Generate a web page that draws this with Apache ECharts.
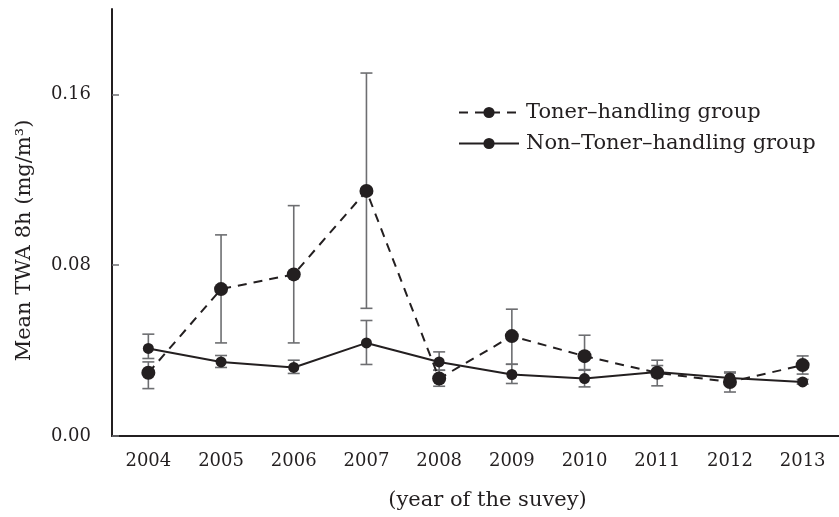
<!DOCTYPE html>
<html>
<head>
<meta charset="utf-8">
<script src="https://cdn.jsdelivr.net/npm/echarts@6/dist/echarts.min.js"></script>
<style>
  html, body { margin: 0; padding: 0; background: #fff; }
  #main { width: 839px; height: 517px; }
</style>
</head>
<body>
<div id="main"></div>
<script>
// 数据
var years = ['2004', '2005', '2006', '2007', '2008', '2009', '2010', '2011', '2012', '2013'];
var yTicks = [0, 0.08, 0.16];

var tonerMean  = [0.0296, 0.0688, 0.0757, 0.1148, 0.0269, 0.0468, 0.0374, 0.0296, 0.0253, 0.0332];
var tonerUpper = [0.0347, 0.0942, 0.1079, 0.1700, 0.0308, 0.0594, 0.0472, 0.0355, 0.0300, 0.0375];
var tonerLower = [0.0222, 0.0436, 0.0436, 0.0598, 0.0233, 0.0336, 0.0311, 0.0235, 0.0206, 0.0290];

var nonMean  = [0.0410, 0.0347, 0.0321, 0.0436, 0.0347, 0.0288, 0.0269, 0.0300, 0.0272, 0.0253];
var nonUpper = [0.0477, 0.0377, 0.0355, 0.0541, 0.0394, 0.0336, 0.0308, 0.0330, 0.0295, 0.0265];
var nonLower = [0.0363, 0.0321, 0.0293, 0.0335, 0.0308, 0.0246, 0.0230, 0.0277, 0.0250, 0.0243];

var font = 'DejaVu Serif';
var black = '#231f20';
var grey = '#6d6e71';

function errData(lower, upper) {
    return years.map(function (y, i) { return [i, lower[i], upper[i]]; });
}

// 误差线
function renderErr(params, api) {
    var x = api.value(0);
    var hi = api.coord([x, api.value(2)]);
    var lo = api.coord([x, api.value(1)]);
    var w = 6;
    var style = { stroke: grey, lineWidth: 1.6 };
    return {
        type: 'group',
        children: [
            { type: 'line', shape: { x1: hi[0], y1: hi[1], x2: lo[0], y2: lo[1] }, style: style },
            { type: 'line', shape: { x1: hi[0] - w, y1: hi[1], x2: hi[0] + w, y2: hi[1] }, style: style },
            { type: 'line', shape: { x1: lo[0] - w, y1: lo[1], x2: lo[0] + w, y2: lo[1] }, style: style }
        ]
    };
}

var myChart = echarts.init(document.getElementById('main'));
myChart.setOption({
    animation: false,
    textStyle: { fontFamily: font, color: black },
    grid: { left: 112, right: -2, top: 9, bottom: 81 },
    legend: {
        orient: 'vertical',
        left: 453,
        top: 97,
        itemWidth: 60,
        itemHeight: 14,
        itemGap: 10,
        data: ['Toner–handling group', 'Non–Toner–handling group'],
        textStyle: { fontFamily: font, fontSize: 21, color: black, padding: [0, 0, 0, 2] }
    },
    xAxis: {
        type: 'category',
        data: years,
        boundaryGap: true,
        axisLine: { lineStyle: { color: black, width: 2 } },
        axisTick: { show: false },
        axisLabel: { fontFamily: font, fontSize: 18, color: black, margin: 16 },
        name: '(year of the suvey)',
        nameLocation: 'middle',
        nameGap: 54,
        nameTextStyle: { fontFamily: font, fontSize: 21, color: black, padding: [0, 0, 0, 24] }
    },
    yAxis: {
        type: 'value',
        min: 0,
        max: 0.2,
        interval: 0.08,
        splitLine: { show: false },
        axisLine: { show: true, lineStyle: { color: black, width: 2 } },
        axisTick: { show: true, inside: true, length: 7, lineStyle: { color: grey, width: 1.5 }, customValues: yTicks },
        axisLabel: {
            fontFamily: font, fontSize: 18, color: black, margin: 21,
            customValues: yTicks,
            formatter: function (v) { return v.toFixed(2); }
        },
        name: 'Mean TWA 8h (mg/m³)',
        nameLocation: 'middle',
        nameGap: 77,
        nameTextStyle: { fontFamily: font, fontSize: 21, color: black, padding: [0, 36, 0, 0] }
    },
    series: [
        {
            type: 'custom',
            renderItem: renderErr,
            data: errData(tonerLower, tonerUpper),
            encode: { x: 0, y: [1, 2] },
            z: 1,
            silent: true
        },
        {
            type: 'custom',
            renderItem: renderErr,
            data: errData(nonLower, nonUpper),
            encode: { x: 0, y: [1, 2] },
            z: 1,
            silent: true
        },
        {
            name: 'Toner–handling group',
            type: 'line',
            data: tonerMean,
            symbol: 'circle',
            symbolSize: 14,
            z: 3,
            itemStyle: { color: black },
            lineStyle: { color: black, width: 2, type: [9, 7] }
        },
        {
            name: 'Non–Toner–handling group',
            type: 'line',
            data: nonMean,
            symbol: 'circle',
            symbolSize: 11,
            z: 3,
            itemStyle: { color: black },
            lineStyle: { color: black, width: 2 }
        }
    ]
});
</script>
</body>
</html>
